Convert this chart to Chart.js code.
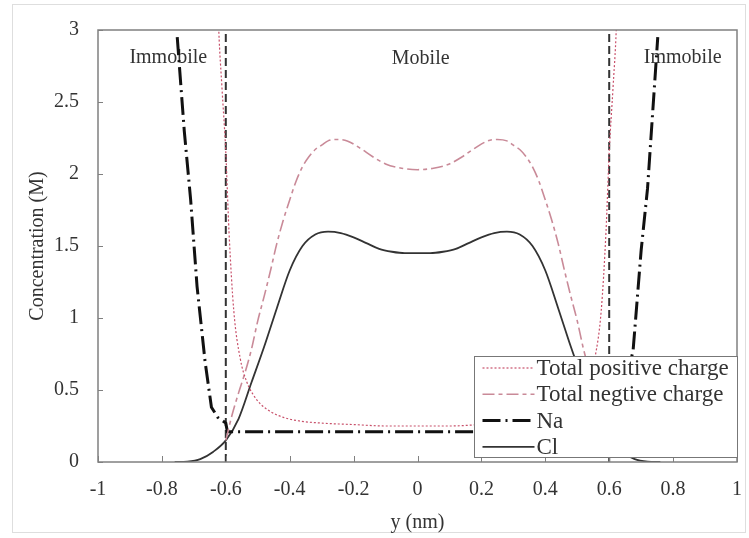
<!DOCTYPE html>
<html>
<head>
<meta charset="utf-8">
<script src="https://cdn.jsdelivr.net/npm/chart.js@4.4.0/dist/chart.umd.min.js"></script>
<style>
  html, body { margin: 0; padding: 0; background: #fff; }
  #wrap { width: 749px; height: 538px; }
</style>
</head>
<body>
<div id="wrap"><canvas id="chart" width="749" height="538"></canvas></div>
<script>
// axis ticks
const xTicks = [-1, -0.8, -0.6, -0.4, -0.2, 0, 0.2, 0.4, 0.6, 0.8, 1];
const yTicks = [0, 0.5, 1, 1.5, 2, 2.5, 3];

// total positive charge
const posX = [-0.63, -0.622, -0.612, -0.6, -0.59, -0.575, -0.555, -0.535, -0.515, -0.49, -0.46, -0.42, -0.37, -0.3, -0.2, -0.1, 0,
              0.1, 0.2, 0.3, 0.37, 0.42, 0.46, 0.49, 0.515, 0.535, 0.555, 0.575, 0.59, 0.6, 0.612, 0.622, 0.63];
const posY = [3.6, 3.0, 2.6, 2.15, 1.6, 1.05, 0.72, 0.56, 0.47, 0.4, 0.35, 0.31, 0.285, 0.27, 0.26, 0.25, 0.25,
              0.25, 0.26, 0.27, 0.285, 0.31, 0.35, 0.4, 0.47, 0.56, 0.72, 1.05, 1.6, 2.15, 2.6, 3.0, 3.6];

// total negative charge
const negX = [-0.6, -0.58, -0.56, -0.54, -0.52, -0.5, -0.48, -0.46, -0.44, -0.42, -0.4, -0.38, -0.36, -0.34, -0.32, -0.3, -0.28, -0.25,
              -0.22, -0.18, -0.14, -0.1, -0.05, 0, 0.05, 0.1, 0.14, 0.18, 0.22, 0.25, 0.28, 0.3, 0.32, 0.34, 0.36, 0.38, 0.4,
              0.42, 0.44, 0.46, 0.48, 0.5, 0.52, 0.54, 0.56, 0.58, 0.6];
const negY = [0.15, 0.33, 0.48, 0.62, 0.78, 0.98, 1.15, 1.33, 1.52, 1.68, 1.82, 1.95, 2.05, 2.12, 2.17, 2.2, 2.23, 2.24,
              2.23, 2.18, 2.12, 2.07, 2.04, 2.03, 2.04, 2.07, 2.12, 2.18, 2.23, 2.24, 2.23, 2.2, 2.17, 2.12, 2.05, 1.95, 1.82,
              1.68, 1.52, 1.33, 1.15, 0.98, 0.78, 0.62, 0.48, 0.33, 0.15];

// Na
const naX = [-0.752, -0.73, -0.71, -0.69, -0.665, -0.645, -0.625, -0.6, -0.595, -0.3, 0, 0.3, 0.595, 0.6, 0.62, 0.645, 0.675, 0.7, 0.72, 0.752];
const naY = [2.95, 2.3, 1.82, 1.22, 0.7, 0.38, 0.31, 0.27, 0.21, 0.21, 0.21, 0.21, 0.21, 0.27, 0.32, 0.45, 0.78, 1.47, 1.9, 2.95];

// Cl
const clX = [-0.76, -0.72, -0.68, -0.64, -0.6, -0.56, -0.52, -0.48, -0.44, -0.4, -0.36, -0.32, -0.28, -0.24, -0.2, -0.16, -0.12, -0.08, -0.04, 0,
             0.04, 0.08, 0.12, 0.16, 0.2, 0.24, 0.28, 0.32, 0.36, 0.4, 0.44, 0.48, 0.52, 0.56, 0.6, 0.64, 0.68, 0.72, 0.76];
const clY = [0, 0.003, 0.02, 0.07, 0.15, 0.3, 0.55, 0.8, 1.07, 1.33, 1.5, 1.58, 1.6, 1.59, 1.56, 1.52, 1.48, 1.46, 1.45, 1.45,
             1.45, 1.46, 1.48, 1.52, 1.56, 1.59, 1.6, 1.58, 1.5, 1.33, 1.07, 0.8, 0.55, 0.3, 0.15, 0.07, 0.02, 0.003, 0];

// mobile / immobile boundaries
const boundaries = [-0.6, 0.6];

// region labels
const regionNames = ['Immobile', 'Mobile', 'Immobile'];
const regionX = [-0.78, 0.01, 0.83];
const regionY = [2.81, 2.8, 2.81];

const FONT = '"Liberation Serif", "Times New Roman", serif';
const TEXT = '#333';

const pts = (xs, ys) => xs.map((v, i) => ({x: v, y: ys[i]}));

const datasets = [
  {
    label: 'Total positive charge', data: pts(posX, posY), inLegend: true,
    borderColor: '#c8506a', borderWidth: 1.2, borderDash: [2, 2], cubicInterpolationMode: 'monotone'
  },
  {
    label: 'Total negtive charge', data: pts(negX, negY), inLegend: true,
    borderColor: '#c98a98', borderWidth: 1.6, borderDash: [12, 4, 4, 4], cubicInterpolationMode: 'monotone'
  },
  {
    label: 'Na', data: pts(naX, naY), inLegend: true,
    borderColor: '#111', borderWidth: 3, borderDash: [18, 5, 2, 5], tension: 0
  },
  {
    label: 'Cl', data: pts(clX, clY), inLegend: true,
    borderColor: '#333', borderWidth: 1.8, cubicInterpolationMode: 'monotone'
  }
];
boundaries.forEach(b => datasets.push({
  label: 'boundary', data: [{x: b, y: 0}, {x: b, y: 3}], inLegend: false,
  borderColor: '#333', borderWidth: 2, borderDash: [8, 4], tension: 0
}));

const decor = {
  id: 'decor',
  beforeDraw(chart) {
    const ctx = chart.ctx;
    ctx.save();
    ctx.fillStyle = '#fff';
    ctx.fillRect(0, 0, chart.width, chart.height);
    ctx.strokeStyle = '#dedede';
    ctx.lineWidth = 1;
    ctx.strokeRect(12.5, 4.5, 733, 528);
    ctx.restore();
  },
  beforeDatasetsDraw(chart) {
    const {ctx, scales: {x, y}} = chart;
    ctx.save();
    ctx.font = '20px ' + FONT;
    ctx.fillStyle = TEXT;
    ctx.textAlign = 'center';
    ctx.textBaseline = 'middle';
    regionNames.forEach((t, i) => ctx.fillText(t, x.getPixelForValue(regionX[i]), y.getPixelForValue(regionY[i])));
    ctx.restore();
  },
  afterDatasetsDraw(chart) {
    const {ctx, chartArea: a, scales: {x, y}} = chart;
    ctx.save();
    // plot frame
    ctx.strokeStyle = '#808080';
    ctx.lineWidth = 1.5;
    ctx.setLineDash([]);
    ctx.strokeRect(a.left, a.top, a.right - a.left, a.bottom - a.top);
    // inward tick marks
    ctx.lineWidth = 1;
    xTicks.forEach(v => {
      const px = Math.round(x.getPixelForValue(v)) + 0.5;
      ctx.beginPath(); ctx.moveTo(px, a.bottom); ctx.lineTo(px, a.bottom - 6); ctx.stroke();
    });
    yTicks.forEach(v => {
      const py = Math.round(y.getPixelForValue(v)) + 0.5;
      ctx.beginPath(); ctx.moveTo(a.left, py); ctx.lineTo(a.left + 5, py); ctx.stroke();
    });

    // legend box in the lower right corner
    const items = chart.data.datasets.filter(d => d.inLegend);
    const bw = 263, bh = 101;
    const bx = Math.round(a.right) - bw + 0.5, by = Math.round(a.bottom) - 5 - bh + 0.5;
    ctx.fillStyle = '#fff';
    ctx.fillRect(bx, by, bw, bh);
    ctx.strokeStyle = '#777';
    ctx.lineWidth = 1;
    ctx.strokeRect(bx, by, bw, bh);
    ctx.font = '23px ' + FONT;
    ctx.textAlign = 'left';
    ctx.textBaseline = 'middle';
    items.forEach((d, i) => {
      const ry = by + 11.5 + i * 26.3;
      ctx.strokeStyle = d.borderColor;
      ctx.lineWidth = d.borderWidth;
      ctx.setLineDash(d.borderDash || []);
      ctx.beginPath(); ctx.moveTo(bx + 8, ry); ctx.lineTo(bx + 60, ry); ctx.stroke();
      ctx.setLineDash([]);
      ctx.fillStyle = TEXT;
      ctx.fillText(d.label, bx + 62, ry + 1);
    });
    ctx.restore();
  }
};

new Chart(document.getElementById('chart'), {
  type: 'line',
  data: {datasets},
  plugins: [decor],
  options: {
    responsive: false,
    animation: false,
    devicePixelRatio: 1,
    elements: {point: {radius: 0}, line: {fill: false}},
    layout: {padding: {top: 30, right: 12, left: 0, bottom: 0}},
    plugins: {legend: {display: false}, tooltip: {enabled: false}},
    scales: {
      x: {
        type: 'linear', min: -1, max: 1,
        afterBuildTicks: s => { s.ticks = xTicks.map(v => ({value: v})); },
        afterFit: s => { s.height = 76; s.paddingLeft = 0; s.paddingRight = 0; },
        grid: {display: false, drawTicks: false},
        border: {display: false},
        ticks: {font: {family: FONT, size: 20}, color: TEXT, padding: 16, callback: v => String(v)},
        title: {display: true, text: 'y (nm)', font: {family: FONT, size: 20, lineHeight: 1.2}, color: TEXT, padding: {top: 0, bottom: 3}}
      },
      y: {
        type: 'linear', min: 0, max: 3,
        afterBuildTicks: s => { s.ticks = yTicks.map(v => ({value: v})); },
        afterFit: s => { s.width = 98; s.paddingTop = 0; s.paddingBottom = 0; },
        grid: {display: false, drawTicks: false},
        border: {display: false},
        ticks: {font: {family: FONT, size: 20}, color: TEXT, padding: 19, callback: v => String(v)},
        title: {display: true, text: 'Concentration (M)', font: {family: FONT, size: 20, lineHeight: 1.2}, color: TEXT, padding: {top: 26, bottom: 0}}
      }
    }
  }
});
</script>
</body>
</html>
